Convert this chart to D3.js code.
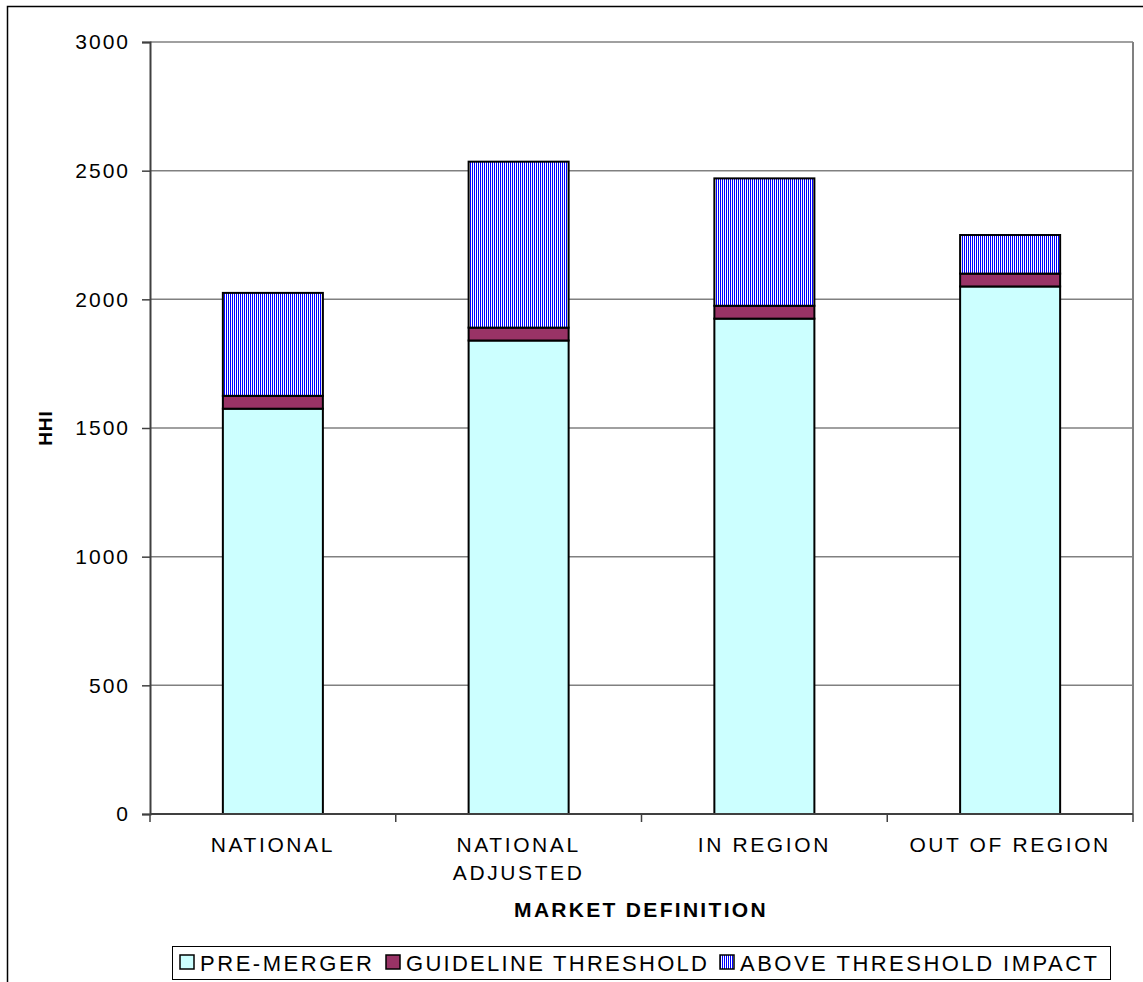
<!DOCTYPE html>
<html><head><meta charset="utf-8">
<script src="https://cdn.jsdelivr.net/npm/d3@7"></script>
<style>
body{margin:0;background:#fff;}
svg{display:block;font-family:"Liberation Sans",Arial,sans-serif;}
</style></head>
<body>
<svg id="chart" width="1143" height="982"></svg>
<script>
const categories = [["NATIONAL"], ["NATIONAL","ADJUSTED"], ["IN REGION"], ["OUT OF REGION"]];
const seriesNames = ["PRE-MERGER", "GUIDELINE THRESHOLD", "ABOVE THRESHOLD IMPACT"];
const preMerger = [1575, 1840, 1925, 2050];
const guideline = [50, 50, 50, 50];
const aboveThreshold = [400, 645, 495, 150];
const yTicks = [0, 500, 1000, 1500, 2000, 2500, 3000];

const svg = d3.select("#chart");
const W = 1143, H = 982;
const m = {left:150, right:1133, top:42, bottom:814};

// outer frame
svg.append("rect").attr("x",7.5).attr("y",6.5).attr("width",W+10).attr("height",H+10)
  .attr("fill","none").attr("stroke","#000").attr("stroke-width",1.5);

const defs = svg.append("defs");
const pat = defs.append("pattern").attr("id","stripes").attr("patternUnits","userSpaceOnUse")
  .attr("width",2).attr("height",10);
pat.append("rect").attr("width",2).attr("height",10).attr("fill","#fff");
pat.append("rect").attr("width",1).attr("height",10).attr("fill","#0000ff");

const idx = categories.map((c,i)=>i);
const x = d3.scaleBand().domain(idx).range([m.left, m.right]).paddingInner(0.593).paddingOuter(0.2965);
const xOuter = d3.scaleBand().domain(idx).range([m.left, m.right]);
const y = d3.scaleLinear().domain([0,3000]).range([m.bottom, m.top]);

// gridlines
svg.append("g").selectAll("line").data(yTicks.filter(t=>t>0)).join("line")
  .attr("x1",m.left).attr("x2",m.right).attr("y1",d=>y(d)).attr("y2",d=>y(d))
  .attr("stroke","#808080").attr("stroke-width",1.5);
// plot right border
svg.append("line").attr("x1",m.right).attr("x2",m.right).attr("y1",m.top).attr("y2",m.bottom)
  .attr("stroke","#808080").attr("stroke-width",2);

// stacked data
const rows = idx.map(i=>({i, pre:preMerger[i], thr:guideline[i], above:aboveThreshold[i]}));
const stack = d3.stack().keys(["pre","thr","above"])(rows);
const fills = ["#ccffff","#993366","url(#stripes)"];

stack.forEach((layer,k)=>{
  svg.append("g").selectAll("rect").data(layer).join("rect")
    .attr("x",d=>x(d.data.i)).attr("width",x.bandwidth())
    .attr("y",d=>y(d[1])).attr("height",d=>y(d[0])-y(d[1]))
    .attr("fill",fills[k]).attr("stroke","#000").attr("stroke-width",2);
});

// y axis
const yAxis = svg.append("g").attr("transform",`translate(${m.left},0)`)
  .call(d3.axisLeft(y).tickValues(yTicks).tickFormat(d3.format("d")).tickSize(8).tickPadding(12));
yAxis.select(".domain").attr("stroke","#404040").attr("stroke-width",2);
yAxis.selectAll(".tick line").attr("stroke","#404040").attr("stroke-width",1.5);
yAxis.selectAll(".tick text").attr("font-size",21).attr("fill","#000")
  .attr("font-family","Liberation Sans, Arial, sans-serif").style("letter-spacing","2px");

// x axis
const xAxis = svg.append("g").attr("transform",`translate(0,${m.bottom})`);
xAxis.append("line").attr("x1",m.left).attr("x2",m.right).attr("stroke","#404040").attr("stroke-width",2);
const bounds = [m.left].concat(idx.map(i=>xOuter(i)+xOuter.bandwidth()));
xAxis.selectAll(".tk").data(bounds).join("line").attr("class","tk")
  .attr("x1",d=>d).attr("x2",d=>d).attr("y1",0).attr("y2",8)
  .attr("stroke","#404040").attr("stroke-width",1.5);
const lbl = xAxis.selectAll(".lbl").data(idx).join("text").attr("class","lbl")
  .attr("text-anchor","middle").attr("font-size",21).style("letter-spacing","2.6px");
lbl.each(function(i){
  const t = d3.select(this);
  categories[i].forEach((s,j)=>{
    t.append("tspan").attr("x",xOuter(i)+xOuter.bandwidth()/2).attr("y",38+j*28).text(s);
  });
});

// axis titles
svg.append("text").attr("x",641).attr("y",917).attr("text-anchor","middle")
  .attr("font-size",21).attr("font-weight","bold").style("letter-spacing","2.3px").text("MARKET DEFINITION");
svg.append("text").attr("transform",`translate(52,${(m.top+m.bottom)/2}) rotate(-90)`)
  .attr("text-anchor","middle").attr("font-size",19).attr("font-weight","bold").style("letter-spacing","1px").text("HHI");

// legend
const lg = svg.append("g");
lg.append("rect").attr("x",172.5).attr("y",946.5).attr("width",938).attr("height",33)
  .attr("fill","#fff").attr("stroke","#000").attr("stroke-width",1);
const legFills = ["#ccffff","#993366","url(#stripes)"];
const legX = [180, 386, 720];
const legW = [172, 301, 357];
seriesNames.forEach((n,k)=>{
  lg.append("rect").attr("x",legX[k]).attr("y",955).attr("width",14).attr("height",14)
    .attr("fill",legFills[k]).attr("stroke","#000").attr("stroke-width",1.5);
  lg.append("text").attr("x",legX[k]+20).attr("y",971).attr("font-size",22)
    .attr("textLength",legW[k]).attr("lengthAdjust","spacing").text(n);
});
</script>
</body></html>
